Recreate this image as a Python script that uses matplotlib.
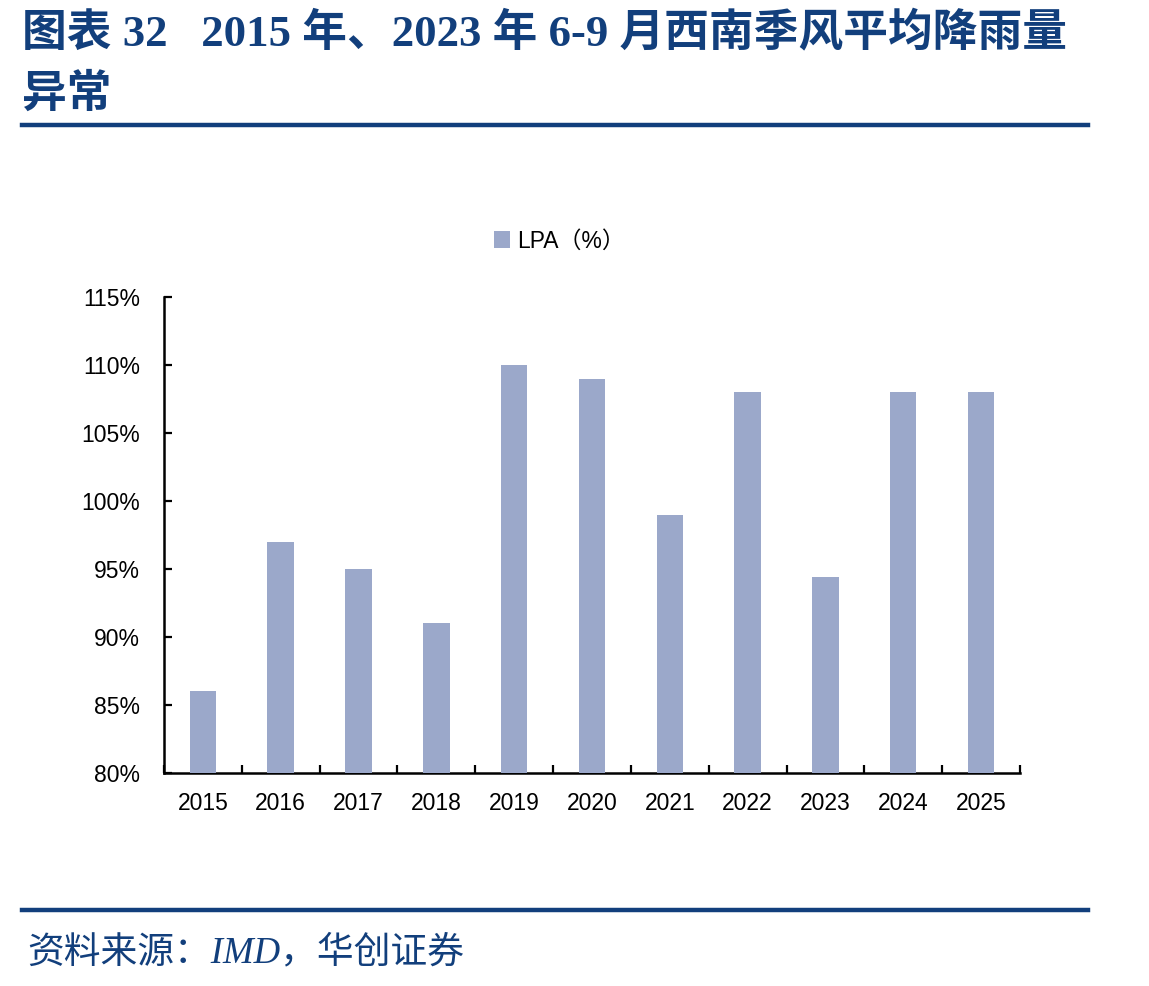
import matplotlib

matplotlib.use("Agg")
import matplotlib.pyplot as plt
import numpy as np

years = ["2015", "2016", "2017", "2018", "2019", "2020", "2021", "2022", "2023", "2024", "2025"]
lpa = [86, 97, 95, 91, 110, 109, 99, 108, 94.4, 108, 108]
yticks = [80, 85, 90, 95, 100, 105, 110, 115]

BLUE = "#123f7c"
BAR = "#9ba8ca"
SERIF = ["Liberation Serif", "Noto Sans CJK SC"]
SANS = ["Liberation Sans", "Noto Sans CJK SC"]

fig = plt.figure(figsize=(11.49, 9.86), dpi=100)
fig.patch.set_facecolor("white")

# header / footer
fig.text(0.019, 0.953, "图表 32   2015 年、2023 年 6-9 月西南季风平均降雨量",
         family=SERIF, fontsize=32.2, fontweight="bold", color=BLUE, ha="left", va="baseline")
fig.text(0.019, 0.892, "异常", family=SERIF, fontsize=32.2, fontweight="bold",
         color=BLUE, ha="left", va="baseline")
fig.add_artist(plt.Line2D([0.019, 0.947], [0.873, 0.873], color=BLUE, lw=3.2))
fig.add_artist(plt.Line2D([0.019, 0.947], [0.077, 0.077], color=BLUE, lw=3.2))
fig.text(0.024, 0.024, "资料来源：IMD，华创证券", family=SERIF, fontsize=26.5,
         style="italic", color=BLUE, ha="left", va="baseline")

ax = fig.add_axes([0.1427, 0.216, 0.745, 0.4828])
x = np.arange(len(years))
ax.bar(x, lpa, width=0.34, color=BAR, label="LPA（%）", zorder=3)

ax.set_xlim(-0.5, len(years) - 0.5)
ax.set_ylim(80, 115)
ax.set_yticks(yticks)
ax.set_yticklabels([f"{v}%" for v in yticks], family=SANS, fontsize=16.5)
ax.set_xticks(x)
ax.set_xticklabels(years, family=SANS, fontsize=16.5)
ax.set_xticks(np.arange(len(years) + 1) - 0.5, minor=True)
ax.tick_params(axis="x", which="major", length=0, pad=14)
ax.tick_params(axis="x", which="minor", direction="in", length=6, width=1.6)
ax.tick_params(axis="y", direction="in", length=6, width=1.6, pad=17)

for s in ("top", "right"):
    ax.spines[s].set_visible(False)
for s in ("left", "bottom"):
    ax.spines[s].set_linewidth(1.8)

ax.legend(loc="upper center", bbox_to_anchor=(0.462, 1.185), frameon=False,
          prop={"family": SANS, "size": 16.5}, handlelength=0.7, handleheight=0.7,
          handletextpad=0.3)

fig.savefig("out.png", facecolor="white")
